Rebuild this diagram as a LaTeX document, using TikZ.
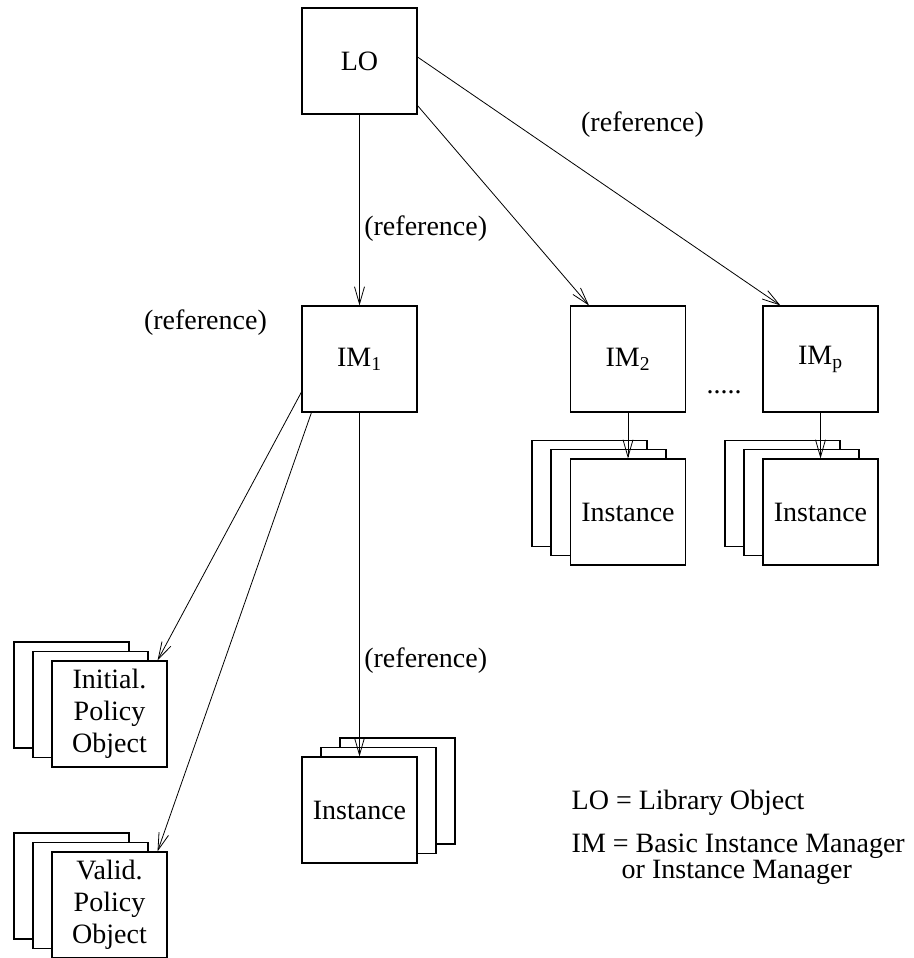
\documentclass[tikz,border=0pt]{standalone}
\usepackage{fontspec}
\setmainfont{Liberation Serif}
\usetikzlibrary{arrows.meta}

\begin{document}
\begin{tikzpicture}[x=0.75pt, y=-0.75pt,
   >={Straight Barb[length=13pt, width=7.5pt]}, line width=0.6pt,
   every node/.style = {font=\fontsize{21}{24}\selectfont},
   box/.style = {draw, fill=white, line width=0.8pt, minimum width=86.25pt,
                 minimum height=79.5pt, inner sep=0pt, align=center}]
   \useasboundingbox (0,0) rectangle (914,958);

   \node[box] (lo)  at (359.5,61)  {LO};
   \node[box] (im1) at (359.5,359) {IM\textsubscript{1}};
   \node[box] (im2) at (628,359)   {IM\textsubscript{2}};
   \node[box] (imp) at (820.5,359) {IM\textsubscript{p}};
   \node (dots) at (724,392) {.....};

   % stacks of copies, back ones first
   \node[box] (inst2c) at (589.5,493.5) {};
   \node[box] (inst2b) at (608.5,502.5) {};
   \node[box] (inst2)  at (628,512)     {Instance};
   \node[box] (instpc) at (782.5,493.5) {};
   \node[box] (instpb) at (801.5,502.5) {};
   \node[box] (instp)  at (820.5,512)   {Instance};
   \node[box] (inst1c) at (397.5,791)   {};
   \node[box] (inst1b) at (378.5,800.5) {};
   \node[box] (inst1)  at (359.5,810)   {Instance};
   \node[box] (initc)  at (71.5,695)    {};
   \node[box] (initb)  at (90.5,704.5)  {};
   \node[box] (init)   at (109.5,714)   {Initial.\\Policy\\Object};
   \node[box] (validc) at (71.5,886)    {};
   \node[box] (validb) at (90.5,895.5)  {};
   \node[box] (valid)  at (109.5,905)   {Valid.\\Policy\\Object};

   \draw[->] (lo.south) -- node[right, pos=0.6]{(reference)} (im1.north);
   \draw[->] ([yshift=6.75pt]lo.south east) -- ([xshift=14.25pt]im2.north west);
   \draw[->] ([yshift=3pt]lo.east) -- node[pos=0.62, yshift=64.5pt]{(reference)}
      ([xshift=13.5pt]imp.north west);
   \draw[->] ([yshift=-24.75pt]im1.west) -- node[pos=0, xshift=-72pt, yshift=51.75pt]{(reference)}
      ([xshift=-7.5pt]init.north east);
   \draw[->] ([xshift=7.5pt]im1.south west) -- ([xshift=-7.5pt]valid.north east);
   \draw[->] (im1.south) -- node[right, pos=0.72]{(reference)} (inst1.north);
   \draw[->] (im2.south) -- (inst2.north);
   \draw[->] (imp.south) -- (instp.north);

   \node[anchor=west, inner sep=1pt] (lolegend) at (570,803) {LO = Library Object};
   \node[anchor=west, inner sep=1pt] (imlegend) at (570,846) {IM = Basic Instance Manager};
   \node[anchor=west, inner sep=1pt] (imlegend2) at (620,872) {or Instance Manager};
\end{tikzpicture}
\end{document}
